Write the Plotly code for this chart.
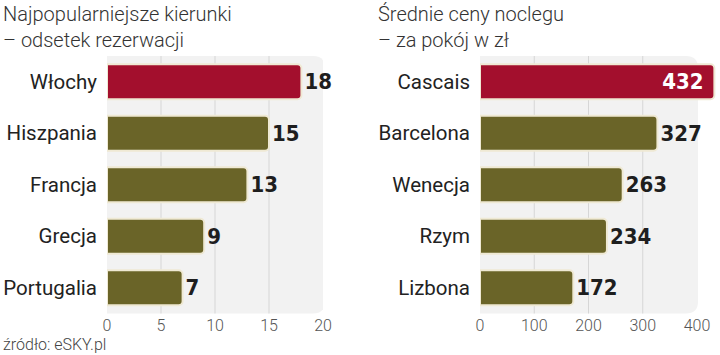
import plotly.graph_objects as go

# ---- data ----
dest_names = ["Włochy", "Hiszpania", "Francja", "Grecja", "Portugalia"]
dest_share = [18, 15, 13, 9, 7]
city_names = ["Cascais", "Barcelona", "Wenecja", "Rzym", "Lizbona"]
city_price = [432, 327, 263, 234, 172]
left_ticks = [0, 5, 10, 15, 20]
right_ticks = [0, 100, 200, 300, 400]
left_title = "Najpopularniejsze kierunki<br>– odsetek rezerwacji"
right_title = "Średnie ceny noclegu<br>– za pokój w zł"
source_text = "źródło: eSKY.pl"

# ---- styles ----
W, H = 720, 355
RED = "#a30f2d"
OLIVE = "#6a6428"
OUTLINE = "#efe9d4"
PANEL = "#f2f2f2"
GRID = "#d6d6d6"
VAL_FAMILY = "DejaVu Sans Condensed, sans-serif"
VAL_SIZE = 22

def colors(n):
    return [RED] + [OLIVE] * (n - 1)

fig = go.Figure()

fig.add_trace(go.Bar(
    y=dest_names, x=dest_share, orientation="h", xaxis="x", yaxis="y",
    marker=dict(color=colors(len(dest_share)), line=dict(color=OUTLINE, width=2), cornerradius=4),
    width=0.68, text=[str(v) for v in dest_share], textposition="outside",
    textfont=dict(family=VAL_FAMILY, size=VAL_SIZE, color="#1e1e1e", weight="bold"),
    cliponaxis=False, constraintext="none", hoverinfo="skip",
))

city_pos = ["inside"] + ["outside"] * (len(city_price) - 1)
city_txtcol = ["white"] + ["#1e1e1e"] * (len(city_price) - 1)
city_txt = [str(v) + ("\u00a0" if p == "inside" else "") for v, p in zip(city_price, city_pos)]
fig.add_trace(go.Bar(
    y=city_names, x=city_price, orientation="h", xaxis="x2", yaxis="y2",
    marker=dict(color=colors(len(city_price)), line=dict(color=OUTLINE, width=2), cornerradius=4),
    width=0.68, text=city_txt, textposition=city_pos,
    insidetextanchor="end",
    textfont=dict(family=VAL_FAMILY, size=VAL_SIZE, color=city_txtcol, weight="bold"),
    cliponaxis=False, constraintext="none", hoverinfo="skip",
))

y_top = 1 - 56 / H
y_bot = 1 - 313.5 / H
axis_tick_font = dict(family="Roboto", size=16, color="#555555", weight=300)
cat_font = dict(family="Roboto", size=20.5, color="#222222")

fig.update_layout(
    template="none",
    width=W, height=H,
    margin=dict(l=0, r=0, t=0, b=0),
    paper_bgcolor="white", plot_bgcolor="rgba(0,0,0,0)",
    showlegend=False, bargap=0.32,
    xaxis=dict(domain=[107 / W, 323 / W], range=[0, left_ticks[-1]], tickvals=left_ticks,
               showgrid=False, zeroline=False, showline=False, ticks="",
               tickfont=axis_tick_font, anchor="y", automargin=False, fixedrange=True),
    yaxis=dict(domain=[y_bot, y_top], autorange="reversed", categoryorder="array",
               categoryarray=dest_names, showgrid=False, zeroline=False, showline=False,
               ticks="", ticklabelstandoff=9, tickfont=cat_font, anchor="x",
               automargin=False, fixedrange=True),
    xaxis2=dict(domain=[480 / W, 716 / W], range=[0, 435], tickvals=right_ticks,
                showgrid=False, zeroline=False, showline=False, ticks="",
                tickfont=axis_tick_font, anchor="y2", automargin=False, fixedrange=True),
    yaxis2=dict(domain=[y_bot, y_top], autorange="reversed", categoryorder="array",
                categoryarray=city_names, showgrid=False, zeroline=False, showline=False,
                ticks="", ticklabelstandoff=9, tickfont=cat_font, anchor="x2",
                automargin=False, fixedrange=True),
)

def panel_path(xmax, rx, ry):
    return (f"M 0 0 L {xmax - rx} 0 Q {xmax} 0 {xmax} {ry} "
            f"L {xmax} {1 - ry} Q {xmax} 1 {xmax - rx} 1 L 0 1 Z")

shapes = []
lx_scale = 216 / left_ticks[-1]
shapes.append(dict(type="path", xref="x", yref="y domain", layer="below",
                   path=panel_path(left_ticks[-1] + 2 / lx_scale, 12 / lx_scale, 12 / 257.5),
                   fillcolor=PANEL, line=dict(width=0)))
for t in left_ticks[1:-1]:
    shapes.append(dict(type="line", xref="x", yref="y domain", x0=t, x1=t, y0=0, y1=1,
                       layer="below", line=dict(color=GRID, width=1)))
rx_scale = 217 / right_ticks[-1]
shapes.append(dict(type="path", xref="x2", yref="y2 domain", layer="below",
                   path=panel_path(right_ticks[-1] + 1 / rx_scale, 12 / rx_scale, 12 / 257.5),
                   fillcolor=PANEL, line=dict(width=0)))
for t in right_ticks[1:-1]:
    shapes.append(dict(type="line", xref="x2", yref="y2 domain", x0=t, x1=t, y0=0, y1=1,
                       layer="below", line=dict(color=GRID, width=1)))
fig.update_layout(shapes=shapes)

title_font = dict(family="Roboto", size=20, color="#333333", weight=300)
fig.add_annotation(text=left_title, xref="paper", yref="paper", x=1 / W, y=1,
                   xanchor="left", yanchor="top", align="left", showarrow=False,
                   font=title_font)
fig.add_annotation(text=right_title, xref="paper", yref="paper", x=376 / W, y=1,
                   xanchor="left", yanchor="top", align="left", showarrow=False,
                   font=title_font)
fig.add_annotation(text=source_text, xref="paper", yref="paper", x=1 / W, y=1 - 344 / H,
                   xanchor="left", yanchor="middle", align="left", showarrow=False,
                   font=dict(family="Roboto", size=16, color="#444444", weight=300))

fig.write_html("out.html", config={"displayModeBar": False, "staticPlot": True},
               post_script="document.body.style.margin='0';document.body.style.overflow='hidden';")
